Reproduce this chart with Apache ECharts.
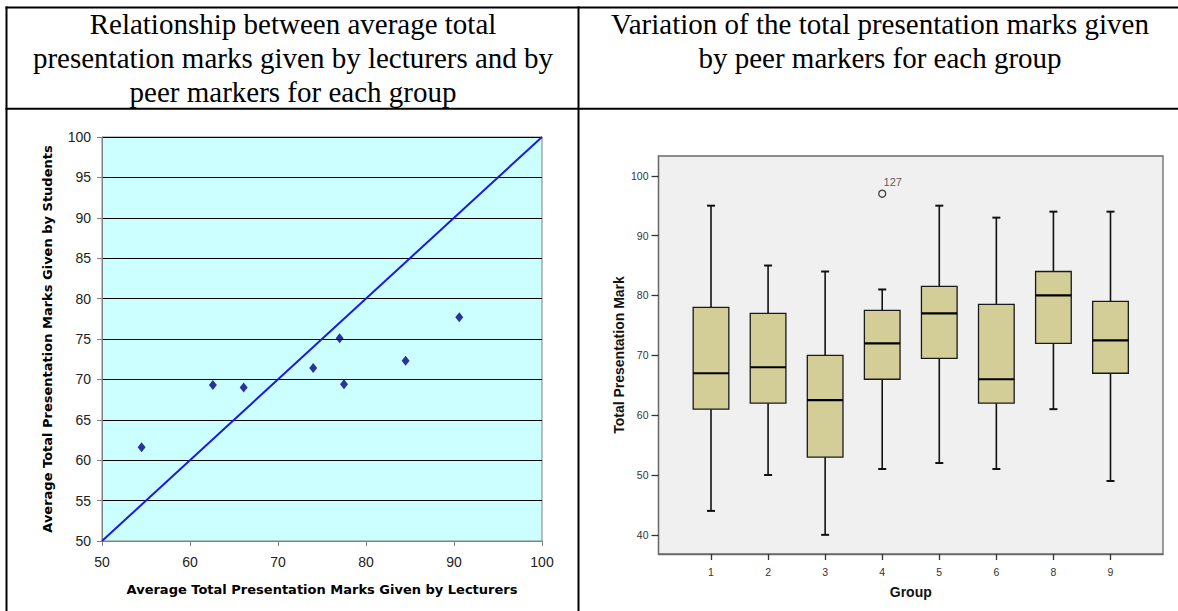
<!DOCTYPE html>
<html>
<head>
<meta charset="utf-8">
<script src="https://cdn.jsdelivr.net/npm/echarts@6/dist/echarts.min.js"></script>
<style>
  html, body { margin: 0; padding: 0; background: #ffffff; }
  #chart { width: 1178px; height: 611px; }
</style>
</head>
<body>
<div id="chart"></div>
<script>
// ---------- data ----------
const leftTitleLines = [
  'Relationship between average total',
  'presentation marks given by lecturers and by',
  'peer markers for each group'
];
const rightTitleLines = [
  'Variation of the total presentation marks given',
  'by peer markers for each group'
];

// Scatter: average marks per group
const lecturerAvg = [54.5, 62.6, 66.1, 74.0, 77.0, 77.5, 84.5, 90.6];
const studentAvg  = [61.6, 69.3, 69.0, 71.4, 75.1, 69.4, 72.3, 77.7];
const equalityLine = [50, 100];
const scatterXName = 'Average Total Presentation Marks Given by Lecturers';
const scatterYName = 'Average Total Presentation Marks Given by Students';

// Box plot: total presentation mark per group
const groups      = ['1', '2', '3', '4', '5', '6', '8', '9'];
const whiskerLow  = [44, 50, 40, 51, 52,   51, 61, 49];
const quart1      = [61, 62, 53, 66, 69.5, 62, 72, 67];
const medians     = [67, 68, 62.5, 72, 77, 66, 80, 72.5];
const quart3      = [78, 77, 70, 77.5, 81.5, 78.5, 84, 79];
const whiskerHigh = [95, 85, 84, 81, 95,   93, 94, 94];
const outlierGroups = ['4'];
const outlierValues = [97];
const outlierLabels = ['127'];
const boxYTicks = [40, 50, 60, 70, 80, 90, 100];
const boxXName = 'Group';
const boxYName = 'Total Presentation Mark';

// ---------- build ----------
const scatterData = lecturerAvg.map((x, i) => [x, studentAvg[i]]);
const lineData = [[equalityLine[0], equalityLine[0]], [equalityLine[1], equalityLine[1]]];
const groupIdx = groups.map((g, i) => i);
const boxData = groups.map((g, i) => [i, whiskerLow[i], quart1[i], medians[i], quart3[i], whiskerHigh[i]]);
const outlierData = outlierGroups.map((g, i) => ({ value: [groups.indexOf(g), outlierValues[i]], name: outlierLabels[i] }));

const BOX_W = 0.625;   // in category units
const CAP_W = 0.14;

function renderBox(params, api) {
  const x = api.value(0);
  const lo = api.coord([x, api.value(1)]);
  const q1 = api.coord([x, api.value(2)]);
  const md = api.coord([x, api.value(3)]);
  const q3 = api.coord([x, api.value(4)]);
  const hi = api.coord([x, api.value(5)]);
  const bw = api.size([BOX_W, 0])[0];
  const cw = api.size([CAP_W, 0])[0];
  const cx = lo[0];
  const ink = '#111111';
  return {
    type: 'group',
    children: [
      { type: 'line', shape: { x1: cx, y1: q3[1], x2: cx, y2: hi[1] }, style: { stroke: ink, lineWidth: 1.6 } },
      { type: 'line', shape: { x1: cx, y1: q1[1], x2: cx, y2: lo[1] }, style: { stroke: ink, lineWidth: 1.6 } },
      { type: 'line', shape: { x1: cx - cw / 2, y1: hi[1], x2: cx + cw / 2, y2: hi[1] }, style: { stroke: ink, lineWidth: 2 } },
      { type: 'line', shape: { x1: cx - cw / 2, y1: lo[1], x2: cx + cw / 2, y2: lo[1] }, style: { stroke: ink, lineWidth: 2 } },
      { type: 'rect', shape: { x: cx - bw / 2, y: q3[1], width: bw, height: q1[1] - q3[1] },
        style: { fill: '#d3ce97', stroke: '#1a1a1a', lineWidth: 1.3 } },
      { type: 'line', shape: { x1: cx - bw / 2, y1: md[1], x2: cx + bw / 2, y2: md[1] }, style: { stroke: '#000', lineWidth: 2.2 } }
    ]
  };
}

const chart = echarts.init(document.getElementById('chart'), null, { renderer: 'svg' });

const titleFont = '29px "Liberation Serif", "Times New Roman", serif';
const graphics = [];
leftTitleLines.forEach((t, i) => {
  graphics.push({ type: 'text', x: 293, y: 24.2 + i * 34, style: { text: t, font: titleFont, fill: '#000', align: 'center', verticalAlign: 'middle' } });
});
rightTitleLines.forEach((t, i) => {
  graphics.push({ type: 'text', x: 880, y: 24.2 + i * 34, style: { text: t, font: titleFont, fill: '#000', align: 'center', verticalAlign: 'middle' } });
});
const border = { stroke: '#000', lineWidth: 2 };
graphics.push({ type: 'line', shape: { x1: 5.5, y1: 7.5, x2: 1178, y2: 7.5 }, style: border });
graphics.push({ type: 'line', shape: { x1: 5.5, y1: 108.7, x2: 1178, y2: 108.7 }, style: border });
graphics.push({ type: 'line', shape: { x1: 6.5, y1: 6.5, x2: 6.5, y2: 611 }, style: border });
graphics.push({ type: 'line', shape: { x1: 578.5, y1: 6.5, x2: 578.5, y2: 611 }, style: border });

const option = {
  animation: false,
  backgroundColor: '#ffffff',
  graphic: graphics,
  grid: [
    { left: 102, top: 137, width: 440, height: 404, show: true, backgroundColor: '#ccffff',
      borderColor: '#808080', borderWidth: 1, outerBoundsMode: 'none', containLabel: false },
    { left: 658.5, top: 156, width: 504.5, height: 398, show: true, backgroundColor: '#f0f0f0',
      borderColor: '#6a6a6a', borderWidth: 1.3, outerBoundsMode: 'none', containLabel: false }
  ],
  xAxis: [
    { type: 'value', gridIndex: 0, min: 50, max: 100, interval: 10,
      name: scatterXName, nameLocation: 'middle', nameGap: 42,
      nameTextStyle: { fontFamily: 'DejaVu Sans', fontWeight: 'bold', fontSize: 13, color: '#000' },
      axisLine: { show: true, onZero: false, lineStyle: { color: '#808080', width: 1 } },
      axisTick: { show: true, inside: false, length: 5, lineStyle: { color: '#808080' } },
      axisLabel: { fontFamily: 'Liberation Sans', fontSize: 14, color: '#222', margin: 14 },
      splitLine: { show: false } },
    { type: 'value', gridIndex: 1, min: -0.92, max: 7.92,
      name: boxXName, nameLocation: 'middle', nameGap: 31,
      nameTextStyle: { fontFamily: 'Liberation Sans', fontWeight: 'bold', fontSize: 14, color: '#111' },
      axisLine: { show: true, onZero: false, lineStyle: { color: '#6a6a6a', width: 1.3 } },
      axisTick: { show: true, length: 6, customValues: groupIdx, lineStyle: { color: '#333', width: 1.3 } },
      axisLabel: { customValues: groupIdx, formatter: v => groups[Math.round(v)] || '',
        fontFamily: 'Liberation Sans', fontSize: 10.5, color: '#333', margin: 12 },
      splitLine: { show: false } }
  ],
  yAxis: [
    { type: 'value', gridIndex: 0, min: 50, max: 100, interval: 5,
      name: scatterYName, nameLocation: 'middle', nameGap: 48,
      nameTextStyle: { fontFamily: 'DejaVu Sans', fontWeight: 'bold', fontSize: 13, color: '#000' },
      axisLine: { show: true, onZero: false, lineStyle: { color: '#808080', width: 1 } },
      axisTick: { show: true, inside: false, length: 5, lineStyle: { color: '#808080' } },
      axisLabel: { fontFamily: 'Liberation Sans', fontSize: 14, color: '#222', margin: 11 },
      splitLine: { show: true, lineStyle: { color: '#000', width: 1 } } },
    { type: 'value', gridIndex: 1, min: 36.8, max: 103.3,
      name: boxYName, nameLocation: 'middle', nameGap: 33,
      nameTextStyle: { fontFamily: 'Liberation Sans', fontWeight: 'bold', fontSize: 14, color: '#111' },
      axisLine: { show: true, onZero: false, lineStyle: { color: '#6a6a6a', width: 1.3 } },
      axisTick: { show: true, length: 7, customValues: boxYTicks, lineStyle: { color: '#333', width: 1.3 } },
      axisLabel: { customValues: boxYTicks, fontFamily: 'Liberation Sans', fontSize: 10.5, color: '#333', margin: 10 },
      splitLine: { show: false } }
  ],
  series: [
    { type: 'line', xAxisIndex: 0, yAxisIndex: 0, data: lineData, symbol: 'none',
      lineStyle: { color: '#1a1ae6', width: 2 }, z: 3 },
    { type: 'scatter', xAxisIndex: 0, yAxisIndex: 0, data: scatterData, symbol: 'diamond',
      symbolSize: [8, 10], itemStyle: { color: '#000080' }, z: 4 },
    { type: 'custom', xAxisIndex: 1, yAxisIndex: 1, data: boxData, renderItem: renderBox,
      encode: { x: 0, y: [1, 2, 3, 4, 5] }, z: 3 },
    { type: 'scatter', xAxisIndex: 1, yAxisIndex: 1, data: outlierData, symbol: 'circle', symbolSize: 7,
      itemStyle: { color: '#f0f0f0', borderColor: '#111', borderWidth: 1.3 },
      label: { show: true, formatter: p => p.name, position: [5.5, -13], align: 'left', verticalAlign: 'top',
        fontFamily: 'Liberation Sans', fontSize: 11, color: '#333' }, z: 4 }
  ]
};
chart.setOption(option);
</script>
</body>
</html>
